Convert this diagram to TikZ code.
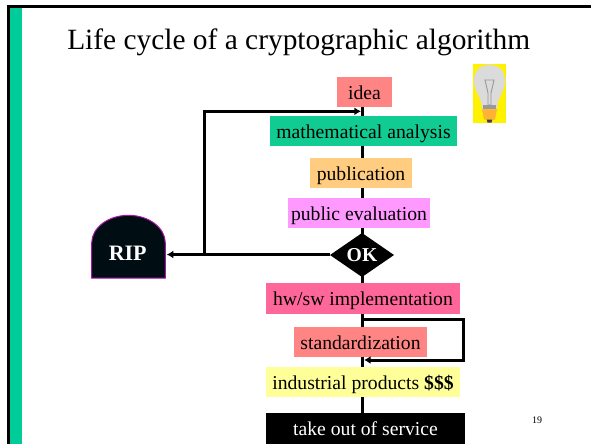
\documentclass[tikz,border=0pt]{standalone}
\usepackage{fontspec}
\setmainfont{Liberation Serif}
\usetikzlibrary{arrows.meta}
\definecolor{bandgreen}{RGB}{0,204,153}
\definecolor{mathgreen}{RGB}{16,204,146}
\definecolor{salmon}{RGB}{255,133,133}
\definecolor{pubor}{RGB}{255,204,128}
\definecolor{evalpk}{RGB}{255,153,255}
\definecolor{hotpk}{RGB}{255,102,153}
\definecolor{paleyel}{RGB}{255,255,153}
\definecolor{ripblack}{RGB}{0,14,20}
\definecolor{ripedge}{RGB}{170,20,170}
\tikzset{
 x=0.75pt,y=-0.75pt,
 stage/.style={anchor=center,inner sep=0pt,minimum height=22.5pt,text height=13.4pt,text depth=2.4pt,font=\fontsize{14.75}{17}\selectfont,text=black},
 flow/.style={draw=black,line width=2.25pt},
 tip/.style={-{Latex[length=5pt,width=6pt]}},
}
\begin{document}
\begin{tikzpicture}
\useasboundingbox (0,0) rectangle (591,444);
\fill[white] (0,0) rectangle (591,444);
% frame
\fill[bandgreen] (10,8) rectangle (22,444);
\fill[black] (7,5) rectangle (10,444);
\fill[black] (7,5) rectangle (591,7.8);
% title
\node[anchor=base west,inner sep=0pt,font=\fontsize{22.05}{25}\selectfont] (title) at (67,49) {Life cycle of a cryptographic algorithm};
% spine, drawn first: the boxes lie over it
\coordinate (spA) at (362,107);
\coordinate (spB) at (362,413);
\draw[flow] (spA) -- (spB);
% boxes
\node[stage,minimum width=41.25pt,fill=salmon] (idea) at (364.5,92) {idea};
\node[stage,minimum width=140.25pt,fill=mathgreen] (math) at (363.5,131) {mathematical analysis};
\node[stage,minimum width=76.5pt,fill=pubor] (pub) at (361,173) {publication};
\node[stage,minimum width=106.5pt,fill=evalpk] (eval) at (359,213) {public evaluation};
\node[stage,minimum width=145.5pt,minimum height=23.25pt,fill=hotpk] (hw) at (363,298.5) {hw/sw implementation};
\node[stage,minimum width=99.75pt,fill=salmon] (std) at (360.5,342) {standardization};
\node[stage,minimum width=145.5pt,fill=paleyel] (ind) at (363,382) {industrial products \textbf{\$\$\$}};
\node[stage,minimum width=149.25pt,minimum height=23.25pt,fill=black,text=white,text height=12.6pt,text depth=2.8pt] (out) at (365.5,428.5) {take out of service};
% OK diamond
\fill[black] (330,255) -- (362,233) -- (394,255) -- (362,277) -- cycle;
\node[font=\fontsize{14.75}{17}\selectfont\bfseries,text=white,inner sep=0pt] (ok) at (362,255) {OK};
\coordinate (okw) at (330,254.5);
% RIP stone
\draw[draw=ripedge,line width=0.75pt,fill=ripblack]
 (91.7,278) -- (91.7,243) arc[start angle=180,end angle=360,x radius=36.8,y radius=27.7] -- (165.3,278) -- cycle;
\coordinate (ripe) at (166.7,254.5);
\node[font=\fontsize{16.5}{19}\selectfont\bfseries,text=white,inner sep=0pt] (rip) at (127.7,253) {RIP};
% feedback
\coordinate (fb) at (204,254.5);
\coordinate (fbt) at (204,111.3);
\coordinate (fbe) at (361,111.3);
\draw[flow,line width=1.9pt,tip] (okw) -- (ripe);
\draw[flow,tip,line join=miter] (fb) -- (fbt) -- (fbe);
% standardization loop
\coordinate (la) at (362,319);
\coordinate (lb) at (463.5,319);
\coordinate (lc) at (463.5,360);
\coordinate (ld) at (364,360);
\draw[flow,tip] (la) -- (lb) -- (lc) -- (ld);
% bulb
\fill[yellow] (473,64) rectangle (506,123);
\fill[black!75] (486.5,119) -- (492.5,119) -- (491.5,122.5) -- (487.5,122.5) -- cycle;
\fill[orange!75!yellow!80!white] (482,109) -- (497,109) -- (495,119.5) -- (484,119.5) -- cycle;
\fill[black!14] (489.5,65) .. controls (477,65) and (474,74) .. (474,81) .. controls (474,92) and (482,97) .. (482,109) -- (497,109) .. controls (497,97) and (505,92) .. (505,81) .. controls (505,74) and (502,65) .. (489.5,65) -- cycle;
\draw[black!40,line width=0.7pt] (485,80) -- (494,80) -- (491,93) -- (491,105) -- (488,105) -- (488,93) -- cycle;
\fill[black!40] (483,105) rectangle (496,109);
% page number
\node[font=\fontsize{7.5}{9}\selectfont,inner sep=0pt] (page) at (537,420) {19};
\end{tikzpicture}
\end{document}
